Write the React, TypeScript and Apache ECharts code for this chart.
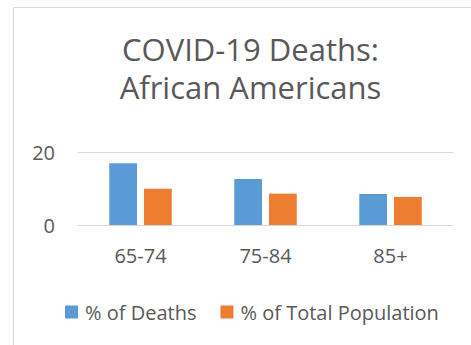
import React, { useEffect, useRef } from "react";
import * as echarts from "echarts";

const categories = ["65-74", "75-84", "85+"];
const deaths = [16.9, 12.6, 8.5];
const population = [9.9, 8.6, 7.7];
const titleText = "COVID-19 Deaths:\nAfrican Americans";

const FONT = "'Open Sans', 'Noto Sans', sans-serif";
const TEXT = "#595959";

export default function App() {
  const ref = useRef<HTMLDivElement>(null);
  useEffect(() => {
    document.body.style.margin = "0";
    const chart = echarts.init(ref.current!, null, { renderer: "svg" });
    chart.setOption({
      animation: false,
      backgroundColor: "#ffffff",
      textStyle: { fontFamily: FONT },
      graphic: [
        {
          type: "rect",
          shape: { x: 13.5, y: 7.5, width: 600, height: 600 },
          style: { fill: "none", stroke: "#d9d9d9", lineWidth: 1 },
          silent: true,
        },
      ],
      title: {
        text: titleText,
        left: 245.5,
        textAlign: "center",
        top: 25,
        textStyle: {
          fontFamily: FONT,
          fontSize: 31,
          fontWeight: "normal",
          color: TEXT,
          lineHeight: 38,
        },
      },
      legend: {
        left: 60,
        top: 297,
        icon: "rect",
        itemWidth: 13,
        itemHeight: 13,
        itemGap: 24,
        textStyle: { fontFamily: FONT, fontSize: 20, color: TEXT, padding: [0, 0, 0, 2] },
        data: ["% of Deaths", "% of Total Population"],
      },
      grid: { left: 78, right: 18, top: 152, bottom: 120 },
      xAxis: {
        type: "category",
        data: categories,
        axisLine: { lineStyle: { color: "#d9d9d9" } },
        axisTick: { show: false },
        axisLabel: { color: TEXT, fontSize: 20, fontFamily: FONT, margin: 20 },
      },
      yAxis: {
        type: "value",
        min: 0,
        max: 20,
        interval: 20,
        splitLine: { lineStyle: { color: "#d9d9d9" } },
        axisLabel: { color: TEXT, fontSize: 20, fontFamily: FONT, margin: 23 },
      },
      series: [
        {
          name: "% of Deaths",
          type: "bar",
          data: deaths,
          itemStyle: { color: "#5B9BD5" },
          barGap: "25%",
          barCategoryGap: "50%",
        },
        {
          name: "% of Total Population",
          type: "bar",
          data: population,
          itemStyle: { color: "#ED7D31" },
        },
      ],
    });
    return () => chart.dispose();
  }, []);
  return <div ref={ref} style={{ width: 471, height: 345 }} />;
}
